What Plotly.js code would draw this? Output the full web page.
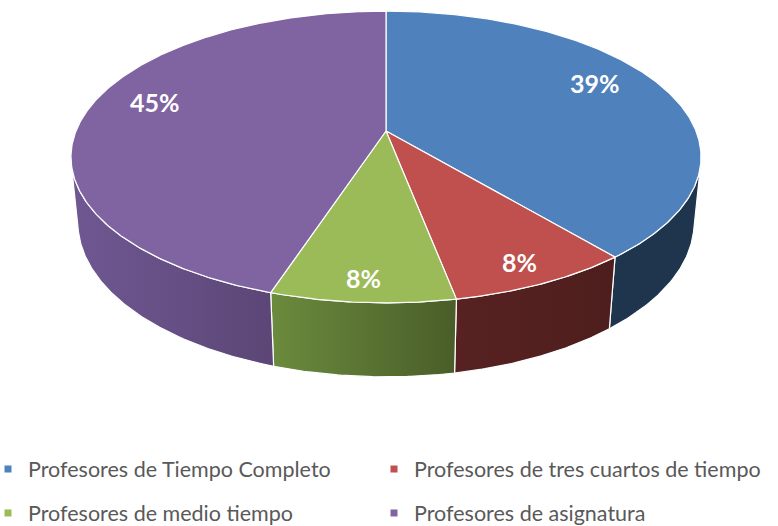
<!DOCTYPE html>
<html><head><meta charset="utf-8">
<script src="https://cdn.plot.ly/plotly-3.0.1.min.js"></script>
<style>html,body{margin:0;padding:0;background:#fff;} #chart{width:778px;height:526px;}</style>
</head><body><div id="chart"></div>
<script>
// ---- data ----
const categories = ["Profesores de Tiempo Completo", "Profesores de tres cuartos de tiempo", "Profesores de medio tiempo", "Profesores de asignatura"];
const values = [39, 8, 8, 45];
const labels = ["39%", "8%", "8%", "45%"];

// ---- styles ----
const topColors = ["#4F81BD", "#C0504D", "#9BBB59", "#8064A2"];
const sideLeft = ["#1F344D", "#572221", "#6B8B3D", "#6F5892"];
const sideRight = ["#1F344D", "#4D1E1D", "#4A5D29", "#5B4676"];

// ---- layout geometry ----
const W = 778, HGT = 526, BOTTOM = 80;          // legend band below the plot area
const PLOT_H = HGT - BOTTOM;

// ---- 3D view (perspective) ----
const CX = 386, CY = 131, FOC = 1550, DIST = 5, ALPHA = 27.1 * Math.PI / 180, DEPTH = 0.24;
const S = Math.sin(ALPHA), C = Math.cos(ALPHA);
function proj(X, Y, Z) {
  const d = DIST + Y * C - Z * S;
  const yc = Y * S + Z * C;
  return [CX + FOC * X / d, CY - FOC * yc / d];
}
const rad = a => a * Math.PI / 180;
function arc(a0, a1, Z, r) {
  const pts = [];
  const n = Math.max(2, Math.ceil(Math.abs(a1 - a0) / 0.5));
  for (let i = 0; i <= n; i++) {
    const a = rad(a0 + (a1 - a0) * i / n);
    pts.push(proj(r * Math.sin(a), r * Math.cos(a), Z));
  }
  return pts;
}

const total = values.reduce((s, v) => s + v, 0);
const visMin = Math.acos(-1 / (DIST * C)) * 180 / Math.PI;
const visMax = 360 - visMin;

const walls = [], tops = [], annotations = [];
let cum = 0;
values.forEach((v, i) => {
  const a0 = cum / total * 360, a1 = (cum + v) / total * 360;
  cum += v;
  // side wall (only the visible front part)
  const w0 = Math.max(a0, visMin), w1 = Math.min(a1, visMax);
  if (w1 > w0) {
    const pts = arc(w0, w1, 0, 1).concat(arc(w1, w0, -DEPTH, 1));
    pts.push(pts[0]);
    walls.push({
      type: 'scatter', mode: 'lines', x: pts.map(p => p[0]), y: pts.map(p => p[1]),
      fill: 'toself', fillcolor: sideLeft[i],
      fillgradient: {type: 'horizontal', colorscale: [[0, sideLeft[i]], [1, sideRight[i]]]},
      line: {color: '#ffffff', width: 1.2}, showlegend: false, hoverinfo: 'skip'
    });
  }
  // top face
  const pts = [proj(0, 0, 0)].concat(arc(a0, a1, 0, 1));
  pts.push(pts[0]);
  tops.push({
    type: 'scatter', mode: 'lines', x: pts.map(p => p[0]), y: pts.map(p => p[1]),
    fill: 'toself', fillcolor: topColors[i],
    line: {color: '#ffffff', width: 1.2}, showlegend: false, hoverinfo: 'skip'
  });
  // label
  const share = v / total;
  const mid = rad((a0 + a1) / 2);
  const r = share < 0.1 ? 0.88 : 0.76;
  const p = proj(r * Math.sin(mid), r * Math.cos(mid), 0);
  annotations.push({
    x: p[0] - (share < 0.1 ? 2 : 3), y: p[1], xref: 'x', yref: 'y', text: '<b>' + labels[i] + '</b>', showarrow: false,
    yshift: share < 0.1 ? 0 : 13,
    font: {family: 'Lato, sans-serif', size: 25, color: '#ffffff'}
  });
});

// one legend per entry, laid out as a 2x2 grid like the original
const legendIds = ['legend', 'legend2', 'legend3', 'legend4'];
const legendTraces = categories.map((name, i) => ({
  type: 'scatter', mode: 'markers', x: [null], y: [null], name: name,
  marker: {symbol: 'square', size: 7, color: topColors[i]},
  legend: legendIds[i], hoverinfo: 'skip'
}));

const colX = [-12 / W, 374 / W];
const rowY = [469, 513];
const legendBase = {
  xanchor: 'left', yanchor: 'middle', itemwidth: 30,
  font: {family: 'Lato, sans-serif', size: 21.5, color: '#595959'},
  bgcolor: 'rgba(0,0,0,0)', borderwidth: 0
};

const layout = {
  width: W, height: HGT,
  margin: {l: 0, r: 0, t: 0, b: BOTTOM, autoexpand: false},
  paper_bgcolor: '#ffffff', plot_bgcolor: '#ffffff',
  xaxis: {range: [0, W], visible: false, fixedrange: true},
  yaxis: {range: [PLOT_H, 0], visible: false, fixedrange: true},
  showlegend: true,
  annotations: annotations
};
legendIds.forEach((id, i) => {
  layout[id] = Object.assign({}, legendBase, {
    x: colX[i % 2],
    y: -(rowY[Math.floor(i / 2)] - PLOT_H) / PLOT_H
  });
});

Plotly.newPlot('chart', walls.concat(tops).concat(legendTraces), layout, {displayModeBar: false, staticPlot: true});
</script>
</body></html>
